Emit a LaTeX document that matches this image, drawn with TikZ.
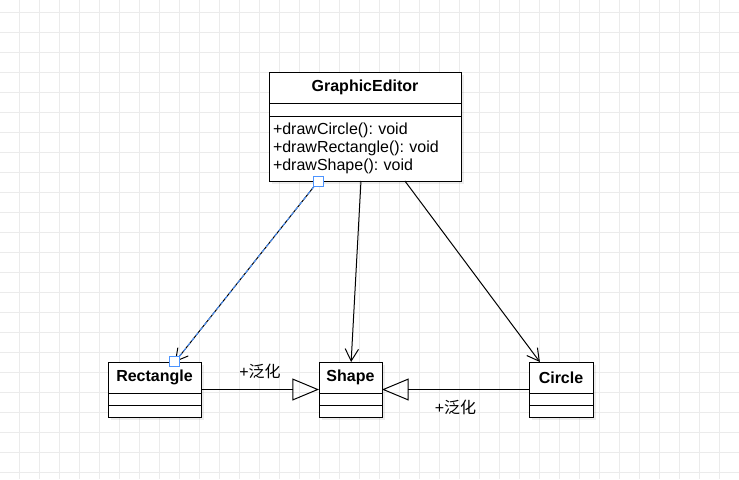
\documentclass[tikz,border=0pt]{standalone}
\usepackage{fontspec}
\setmainfont{Liberation Sans}
\newfontfamily\cjk{Noto Sans CJK SC}
\usetikzlibrary{arrows.meta,positioning,calc,shadows}
\frenchspacing

\begin{document}
\begin{tikzpicture}[
    x=0.75pt, y=-0.75pt,
    gridline/.style={draw=black!8, line width=0.75pt},
    classbox/.style={rectangle, draw, fill=white, line width=0.75pt, inner sep=0pt, outer sep=0pt,
        font=\fontsize{12pt}{13.7pt}\selectfont,
        drop shadow={shadow xshift=2.25pt, shadow yshift=-2.25pt, fill=black, opacity=0.07}},
    classtitle/.style={classbox, minimum height=23.25pt, font=\fontsize{12pt}{13.7pt}\selectfont\bfseries},
    classrow/.style={classbox, minimum height=9pt},
    assoc/.style={-{Straight Barb[length=9pt,width=10pt]}, line width=0.75pt},
    gen/.style={-{Triangle[open,length=20pt,width=16.5pt]}, line width=0.75pt},
    handle/.style={rectangle, draw=blue!60!cyan!70, fill=white, line width=0.75pt, minimum size=7.5pt, inner sep=0pt},
    edgelabel/.style={font=\fontsize{12pt}{13.7pt}\selectfont}
]
\useasboundingbox (0,0) rectangle (739,479);
\fill[white] (0,0) rectangle (739,479);

% background grid
\foreach \gx in {19,39,...,739}
    \draw[gridline] (\gx,0) -- (\gx,479);
\foreach \gy in {12,32,...,479}
    \draw[gridline] (0,\gy) -- (739,\gy);

% GraphicEditor
\node[classtitle, minimum width=144pt, anchor=north west] (editor) at (269,72) {GraphicEditor};
\node[classbox, minimum width=144pt, minimum height=9.75pt, below=0pt of editor] (editorattr) {};
\node[classbox, minimum width=144pt, minimum height=48.75pt, text width=138pt, inner xsep=3pt,
      align=left, below=0pt of editorattr] (editorops)
      {+drawCircle(): void\\+drawRectangle(): void\\+drawShape(): void};

% Rectangle
\node[classtitle, minimum width=69.75pt, anchor=north west] (rect) at (108,362) {Rectangle};
\node[classrow, minimum width=69.75pt, below=0pt of rect] (rectattr) {};
\node[classrow, minimum width=69.75pt, below=0pt of rectattr] (rectops) {};

% Shape
\node[classtitle, minimum width=47.25pt, anchor=north west] (shape) at (319,362) {Shape};
\node[classrow, minimum width=47.25pt, below=0pt of shape] (shapeattr) {};
\node[classrow, minimum width=47.25pt, below=0pt of shapeattr] (shapeops) {};

% Circle
\node[classtitle, minimum width=48pt, anchor=north west] (circle) at (529,362) {Circle};
\node[classrow, minimum width=48pt, below=0pt of circle] (circleattr) {};
\node[classrow, minimum width=48pt, below=0pt of circleattr] (circleops) {};

% associations
\coordinate (editorL) at ($(editorops.south west)!0.257!(editorops.south east)$);
\coordinate (rectT) at ($(rect.north west)!0.72!(rect.north east)$);
\draw[assoc] (editorL) -- (rectT);
\draw[blue!60!cyan!70, line width=0.75pt, dash pattern=on 3pt off 2pt] (editorL) -- (rectT);
\node[handle] (hstart) at (editorL) {};
\node[handle] (hend) at ($(rectT)+(0,-1)$) {};

\draw[assoc] ($(editorops.south west)!0.479!(editorops.south east)$)
    -- ($(shape.north west)!0.51!(shape.north east)$);
\draw[assoc] ($(editorops.south west)!0.708!(editorops.south east)$)
    -- ($(circle.north west)!0.17!(circle.north east)$);

% generalizations
\draw[gen] ($(rect.north east)!0.5!(rectops.south east)$)
    -- node[edgelabel, above=4pt] (lblrect) {+{\cjk 泛化}}
    ($(shape.north west)!0.5!(shapeops.south west)$);
\draw[gen] ($(circle.north west)!0.5!(circleops.south west)$)
    -- node[edgelabel, below=4pt] (lblcircle) {+{\cjk 泛化}}
    ($(shape.north east)!0.5!(shapeops.south east)$);
\end{tikzpicture}
\end{document}
